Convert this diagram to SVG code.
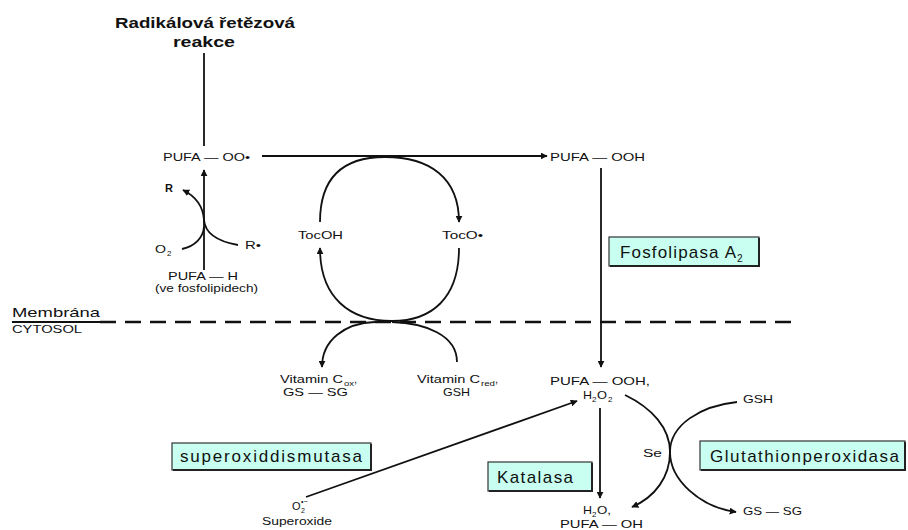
<svg xmlns="http://www.w3.org/2000/svg" width="908" height="530" viewBox="0 0 908 530">
<defs>
<marker id="ah" viewBox="0 0 10 10" refX="9" refY="5" markerWidth="7" markerHeight="7" markerUnits="userSpaceOnUse" orient="auto">
<path d="M0,0 L10,5 L0,10 z" fill="#111"/>
</marker>
</defs>
<style>
text{font-family:"Liberation Sans",Arial,sans-serif;fill:#111}
.t{font-size:11px}
.s{font-size:10px}
.sub{font-size:8px}
.b{font-size:17px}
.title{font-size:15px;font-weight:bold}
.ln{fill:none;stroke:#111;stroke-width:1.8}
.box{fill:#c8fff0;stroke:#333;stroke-width:1.2}
.sh{fill:none;stroke:#222;stroke-width:2}
</style>
<rect width="908" height="530" fill="#fff"/>

<g id="connectors">
<line class="ln" x1="204" y1="53" x2="204" y2="146"/>
<line class="ln" x1="262" y1="156" x2="547" y2="156" marker-end="url(#ah)"/>
<line class="ln" x1="204" y1="270" x2="204" y2="170" marker-end="url(#ah)"/>
<path class="ln" d="M238,245 C215,241 205,232 204,220 C203,205 195,196 183,190" marker-end="url(#ah)"/>
<path class="ln" d="M182,249 C196,246 203,237 204,227"/>
<path class="ln" d="M320,222 C320,178 342,157 385,157 C430,157 459,178 459,222" marker-end="url(#ah)"/>
<path class="ln" d="M459,248 C459,298 432,321 392,321 C350,321 320,298 320,248" marker-end="url(#ah)"/>
<path class="ln" d="M375,322 C345,323 322,340 322,367" marker-end="url(#ah)"/>
<path class="ln" d="M392,322 C425,323 457,335 457,362"/>
<line x1="12" y1="322" x2="100" y2="322" stroke="#111" stroke-width="2"/>
<line x1="100" y1="322" x2="792" y2="322" stroke="#111" stroke-width="2.5" stroke-dasharray="16,9"/>
<line class="ln" x1="601" y1="168" x2="601" y2="367" marker-end="url(#ah)"/>
<line class="ln" x1="600" y1="408" x2="600" y2="498" marker-end="url(#ah)"/>
<line class="ln" x1="306" y1="497" x2="577" y2="401" marker-end="url(#ah)"/>
<path class="ln" d="M625,395 C652,408 670,428 670,452 C670,477 655,497 632,507" marker-end="url(#ah)"/>
<path class="ln" d="M737,402 C700,406 670,425 670,452 C670,480 700,507 736,512" marker-end="url(#ah)"/>
</g>

<g id="title"><text class="title" x="115" y="28" textLength="180" lengthAdjust="spacingAndGlyphs">Radikálová řetězová</text><text class="title" x="173" y="47" textLength="62" lengthAdjust="spacingAndGlyphs">reakce</text></g>
<g id="pufa-oo"><text class="t" x="163" y="161" textLength="87" lengthAdjust="spacingAndGlyphs">PUFA — OO•</text></g>
<g id="pufa-ooh"><text class="t" x="550" y="161" textLength="95" lengthAdjust="spacingAndGlyphs">PUFA — OOH</text></g>
<g id="r"><text class="t" x="165" y="192" font-weight="bold">R</text></g>
<g id="o2"><text class="t" x="155" y="253" textLength="11" lengthAdjust="spacingAndGlyphs">O</text><text class="sub" x="167" y="256">2</text></g>
<g id="rdot"><text class="t" x="245" y="249" textLength="16" lengthAdjust="spacingAndGlyphs">R•</text></g>
<g id="pufa-h"><text class="t" x="168" y="280" textLength="70" lengthAdjust="spacingAndGlyphs">PUFA — H</text><text class="s" x="155" y="292" textLength="103" lengthAdjust="spacingAndGlyphs">(ve fosfolipidech)</text></g>
<g id="tocoh"><text class="t" x="298" y="239" textLength="45" lengthAdjust="spacingAndGlyphs">TocOH</text></g>
<g id="toco"><text class="t" x="442" y="239" textLength="41" lengthAdjust="spacingAndGlyphs">TocO•</text></g>
<g id="membrana"><text x="12" y="317" font-size="13" textLength="88" lengthAdjust="spacingAndGlyphs">Membrána</text><text x="12" y="333" font-size="10" textLength="70" lengthAdjust="spacingAndGlyphs">CYTOSOL</text></g>
<g id="vitc-ox"><text class="t" x="280" y="383" textLength="63" lengthAdjust="spacingAndGlyphs">Vitamin C</text><text class="sub" x="344" y="386" textLength="10" lengthAdjust="spacingAndGlyphs">ox</text><text class="t" x="354" y="383">,</text><text class="t" x="283" y="396" textLength="65" lengthAdjust="spacingAndGlyphs">GS — SG</text></g>
<g id="vitc-red"><text class="t" x="417" y="383" textLength="63" lengthAdjust="spacingAndGlyphs">Vitamin C</text><text class="sub" x="481" y="386" textLength="14" lengthAdjust="spacingAndGlyphs">red</text><text class="t" x="495" y="383">,</text><text class="t" x="443" y="396" textLength="27" lengthAdjust="spacingAndGlyphs">GSH</text></g>
<g id="fosfolipasa"><rect class="box" x="609" y="237" width="150" height="29"/><path class="sh" d="M610,266 H759 V238"/><text class="b" x="620" y="258" textLength="116" lengthAdjust="spacing">Fosfolipasa A</text><text x="737" y="262" font-size="10">2</text></g>
<g id="pufa-ooh-h2o2"><text class="t" x="550" y="385" textLength="100" lengthAdjust="spacingAndGlyphs">PUFA — OOH,</text><text class="t" x="583" y="399" textLength="9" lengthAdjust="spacingAndGlyphs">H</text><text class="sub" x="592" y="402">2</text><text class="t" x="597" y="399" textLength="10" lengthAdjust="spacingAndGlyphs">O</text><text class="sub" x="608" y="402">2</text></g>
<g id="gsh"><text class="t" x="743" y="403" textLength="30" lengthAdjust="spacingAndGlyphs">GSH</text></g>
<g id="se"><text class="s" x="643" y="457" textLength="19" lengthAdjust="spacingAndGlyphs">Se</text></g>
<g id="glutathion"><rect class="box" x="700" y="441" width="205" height="29"/><path class="sh" d="M701,470 H905 V442"/><text class="b" x="710" y="462" textLength="189" lengthAdjust="spacing">Glutathionperoxidasa</text></g>
<g id="superoxiddismutasa"><rect class="box" x="172" y="443" width="199" height="27"/><path class="sh" d="M173,470 H371 V444"/><text class="b" x="180" y="462" textLength="182" lengthAdjust="spacing">superoxiddismutasa</text></g>
<g id="katalasa"><rect class="box" x="488" y="462" width="104" height="29"/><path class="sh" d="M489,491 H592 V463"/><text class="b" x="497" y="483" textLength="76" lengthAdjust="spacing">Katalasa</text></g>
<g id="superoxide"><text class="t" x="292" y="510">O</text><text x="301" y="513" font-size="7">2</text><text x="301" y="504" font-size="7">•−</text><text class="s" x="262" y="525" textLength="70" lengthAdjust="spacingAndGlyphs">Superoxide</text></g>
<g id="h2o-pufa-oh"><text class="t" x="583" y="514" textLength="9" lengthAdjust="spacingAndGlyphs">H</text><text class="sub" x="592" y="517">2</text><text class="t" x="597" y="514" textLength="14" lengthAdjust="spacingAndGlyphs">O,</text><text class="t" x="560" y="528" textLength="83" lengthAdjust="spacingAndGlyphs">PUFA — OH</text></g>
<g id="gs-sg"><text class="t" x="743" y="515" textLength="59" lengthAdjust="spacingAndGlyphs">GS — SG</text></g>
</svg>
